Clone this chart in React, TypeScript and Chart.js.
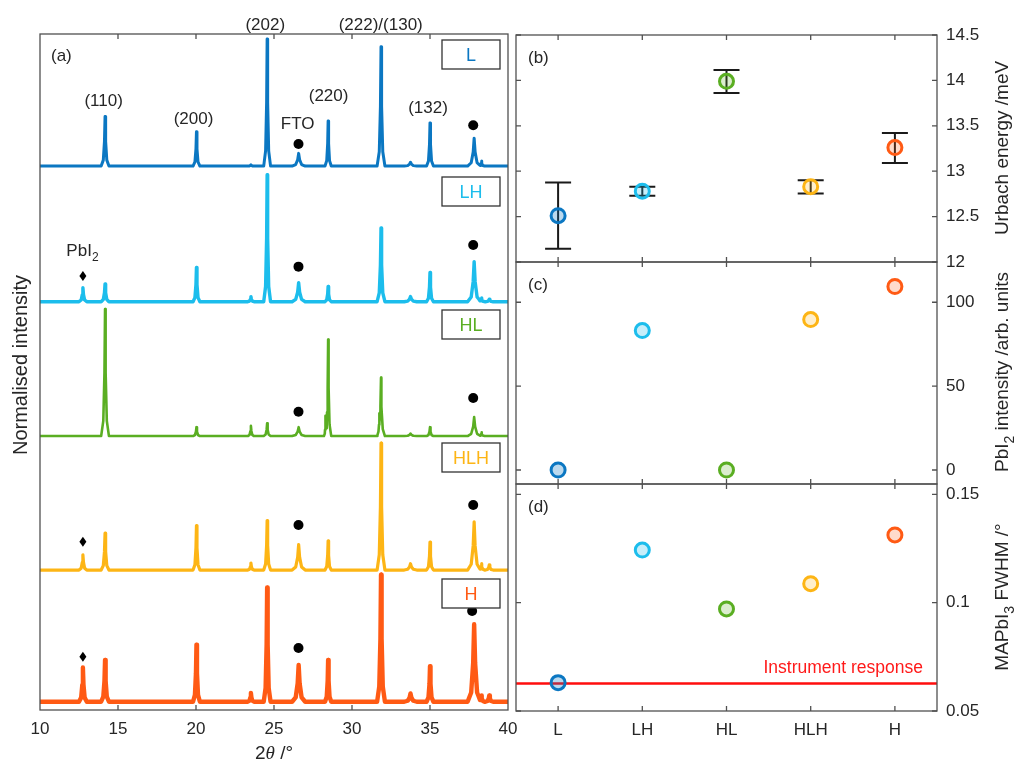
import React, { useEffect, useRef } from 'react';
import { Chart, registerables } from 'chart.js';
Chart.register(...registerables);

const W = 1014;
const H = 763;
const FONT = "'Liberation Sans', Arial, Helvetica, sans-serif";
const SERIF = "'Liberation Serif', 'Times New Roman', serif";
const TEXT_COLOR = '#262626';
const FRAME_COLOR = '#505050';

// ---------- samples ----------
const samples = ['L', 'LH', 'HL', 'HLH', 'H'];
const sampleColors = ['#0B77C2', '#1CBDEC', '#5AAE22', '#FDB515', '#FF5A14'];
const sampleFills = [
  'rgba(11,119,194,0.28)',
  'rgba(28,189,236,0.25)',
  'rgba(90,174,34,0.22)',
  'rgba(253,181,21,0.22)',
  'rgba(255,90,20,0.22)',
];

// ---------- (a) XRD ----------
const twoThetaTicks = [10, 15, 20, 25, 30, 35, 40];
const peakPos = [12.75, 14.17, 20.03, 23.52, 24.56, 26.58, 28.3, 28.47, 31.75, 31.86, 33.75, 35.0, 37.83, 38.3, 38.8];
const peakHalfWidth = [0.25, 0.25, 0.22, 0.2, 0.22, 0.42, 0.1, 0.2, 0.12, 0.25, 0.4, 0.22, 0.42, 0.2, 0.25];
const heightsL = [0, 0.39, 0.27, 0.01, 1.0, 0.1, 0, 0.355, 0, 0.94, 0.03, 0.34, 0.22, 0.04, 0];
const heightsLH = [0.11, 0.14, 0.27, 0.04, 1.0, 0.15, 0, 0.12, 0, 0.58, 0.04, 0.23, 0.315, 0.03, 0.02];
const heightsHL = [0, 1.0, 0.07, 0.08, 0.1, 0.07, 0.16, 0.76, 0.18, 0.46, 0.02, 0.07, 0.15, 0.03, 0];
const heightsHLH = [0.12, 0.29, 0.35, 0.055, 0.39, 0.2, 0, 0.23, 0, 1.0, 0.05, 0.22, 0.38, 0.05, 0.04];
const heightsH = [0.27, 0.33, 0.45, 0.07, 0.9, 0.29, 0, 0.33, 0, 1.0, 0.065, 0.28, 0.61, 0.05, 0.05];
const traceHeights = [heightsL, heightsLH, heightsHL, heightsHLH, heightsH];
const traceOffsets = [4.283, 3.215, 2.157, 1.102, 0.065];
const traceLineWidths = [3.0, 3.4, 2.6, 3.2, 4.4];
const xrdYMax = 5.323;

// hkl annotations
const hklText = ['(110)', '(200)', '(202)', 'FTO', '(220)', '(222)/(130)', '(132)'];
const hklX = [14.08, 19.84, 24.44, 26.52, 28.5, 31.84, 34.87];
const hklY = [4.803, 4.661, 5.4, 4.624, 4.843, 5.4, 4.75];
// FTO dots
const fto2Theta = [26.57, 37.77, 26.57, 37.77, 26.57, 37.77, 26.57, 37.77, 26.57, 37.7];
const ftoY = [4.457, 4.604, 3.491, 3.661, 2.349, 2.457, 1.457, 1.614, 0.488, 0.78];
// PbI2 diamonds
const pbi2Theta = [12.75, 12.75, 12.75];
const pbi2Y = [3.417, 1.325, 0.42];
const pbi2LabelX = 11.69;
const pbi2LabelY = 3.622;

// ---------- (b) Urbach ----------
const urbach = [12.51, 12.78, 13.99, 12.83, 13.26];
const urbachLow = [12.146, 12.73, 13.86, 12.755, 13.09];
const urbachHigh = [12.876, 12.83, 14.115, 12.9, 13.42];
const urbachTicks = [12, 12.5, 13, 13.5, 14, 14.5];

// ---------- (c) PbI2 intensity ----------
const pbi2Intensity = [0, 83.1, 0, 89.7, 109.4];
const pbi2Ticks = [0, 50, 100];

// ---------- (d) FWHM ----------
const fwhm = [0.0631, 0.1243, 0.0971, 0.1088, 0.1313];
const fwhmTicks = [0.05, 0.1, 0.15];
const instrumentResponse = 0.0627;

// ---------- layout (pixels) ----------
const sampleBoxTop = [40, 177, 310, 443, 579];

type Seg = { t: string; italic?: boolean; sub?: boolean; serif?: boolean };

function drawRich(
  ctx: CanvasRenderingContext2D,
  segs: Seg[],
  x: number,
  y: number,
  size: number,
  color: string,
  rotation = 0,
  align: 'center' | 'left' | 'right' = 'center'
) {
  ctx.save();
  ctx.translate(x, y);
  ctx.rotate(rotation);
  ctx.fillStyle = color;
  ctx.textBaseline = 'alphabetic';
  ctx.textAlign = 'left';
  const fontFor = (s: Seg) =>
    `${s.italic ? 'italic ' : ''}${s.sub ? Math.round(size * 0.72) : size}px ${s.serif ? SERIF : FONT}`;
  const widths = segs.map((s) => {
    ctx.font = fontFor(s);
    return ctx.measureText(s.t).width;
  });
  const total = widths.reduce((a, b) => a + b, 0);
  let cx = align === 'center' ? -total / 2 : align === 'right' ? -total : 0;
  const base = size * 0.36;
  segs.forEach((s, i) => {
    ctx.font = fontFor(s);
    ctx.fillText(s.t, cx, base + (s.sub ? size * 0.3 : 0));
    cx += widths[i];
  });
  ctx.restore();
}

function frameAndTicks(chart: any, xTicks: number[], yTicks: number[]) {
  const { ctx, chartArea: a, scales } = chart;
  ctx.save();
  ctx.strokeStyle = FRAME_COLOR;
  ctx.lineWidth = 1.3;
  ctx.strokeRect(a.left, a.top, a.right - a.left, a.bottom - a.top);
  const L = 5;
  ctx.beginPath();
  xTicks.forEach((v) => {
    const px = scales.x.getPixelForValue(v);
    ctx.moveTo(px, a.top);
    ctx.lineTo(px, a.top + L);
    ctx.moveTo(px, a.bottom);
    ctx.lineTo(px, a.bottom - L);
  });
  yTicks.forEach((v) => {
    const py = scales.y.getPixelForValue(v);
    ctx.moveTo(a.left, py);
    ctx.lineTo(a.left + L, py);
    ctx.moveTo(a.right, py);
    ctx.lineTo(a.right - L, py);
  });
  ctx.stroke();
  ctx.restore();
}

const shapeX = [-1, -0.45, -0.15, 0, 0.15, 0.45, 1];
const shapeY = [0, 0.12, 0.5, 1, 0.5, 0.12, 0];
function profileAt(x: number, p: number, b: number, h: number) {
  const u = (x - p) / b;
  if (u <= -1 || u >= 1) return 0;
  for (let i = 0; i < shapeX.length - 1; i++) {
    if (u >= shapeX[i] && u <= shapeX[i + 1]) {
      const t = (u - shapeX[i]) / (shapeX[i + 1] - shapeX[i]);
      return h * (shapeY[i] + t * (shapeY[i + 1] - shapeY[i]));
    }
  }
  return 0;
}
function buildTrace(heights: number[], offset: number) {
  const xs: number[] = [10, 40];
  peakPos.forEach((p, i) => {
    if (heights[i] > 0) shapeX.forEach((s) => xs.push(p + s * peakHalfWidth[i]));
  });
  xs.sort((a, b) => a - b);
  return xs.map((x) => {
    let y = 0;
    peakPos.forEach((p, i) => {
      if (heights[i] > 0) y = Math.max(y, profileAt(x, p, peakHalfWidth[i], heights[i]));
    });
    return { x, y: offset + y };
  });
}

const tickFont = { family: FONT, size: 17 };

function xrdConfig(): any {
  const plugin = {
    id: 'xrdDecor',
    afterDraw(chart: any) {
      const { ctx, chartArea: a, scales } = chart;
      frameAndTicks(chart, twoThetaTicks.slice(1, -1), []);
      const sx = (v: number) => scales.x.getPixelForValue(v);
      const sy = (v: number) => scales.y.getPixelForValue(v);
      hklText.forEach((t, i) => drawRich(ctx, [{ t }], sx(hklX[i]), sy(hklY[i]), 17, TEXT_COLOR));
      drawRich(ctx, [{ t: 'PbI' }, { t: '2', sub: true }], sx(pbi2LabelX), sy(pbi2LabelY), 17, TEXT_COLOR, 0, 'left');
      drawRich(ctx, [{ t: '(a)' }], a.left + 11, a.top + 21, 17, TEXT_COLOR, 0, 'left');
      ctx.save();
      ctx.fillStyle = '#000';
      fto2Theta.forEach((x, i) => {
        ctx.beginPath();
        ctx.arc(sx(x), sy(ftoY[i]), 5, 0, Math.PI * 2);
        ctx.fill();
      });
      pbi2Theta.forEach((x, i) => {
        const px = sx(x);
        const py = sy(pbi2Y[i]);
        ctx.beginPath();
        ctx.moveTo(px, py - 5);
        ctx.lineTo(px + 3.5, py);
        ctx.lineTo(px, py + 5);
        ctx.lineTo(px - 3.5, py);
        ctx.closePath();
        ctx.fill();
      });
      samples.forEach((s, i) => {
        ctx.fillStyle = '#fff';
        ctx.fillRect(442, sampleBoxTop[i], 58, 29);
        ctx.strokeStyle = '#333';
        ctx.lineWidth = 1.3;
        ctx.strokeRect(442, sampleBoxTop[i], 58, 29);
        drawRich(ctx, [{ t: s }], 471, sampleBoxTop[i] + 15, 18, sampleColors[i]);
      });
      ctx.restore();
      drawRich(
        ctx,
        [{ t: '2' }, { t: 'θ', italic: true, serif: true }, { t: ' /°' }],
        (a.left + a.right) / 2,
        752,
        19,
        TEXT_COLOR
      );
      drawRich(ctx, [{ t: 'Normalised intensity' }], 20, 365, 20, TEXT_COLOR, -Math.PI / 2);
    },
  };
  return {
    type: 'line',
    data: {
      datasets: samples.map((s, i) => ({
        label: s,
        data: buildTrace(traceHeights[i], traceOffsets[i]),
        borderColor: sampleColors[i],
        borderWidth: traceLineWidths[i],
        pointRadius: 0,
        tension: 0,
        borderJoinStyle: 'round',
        fill: false,
      })),
    },
    options: {
      animation: false,
      responsive: false,
      events: [],
      layout: { padding: { left: 40, right: W - 508, top: 34, bottom: 0 } },
      plugins: { legend: { display: false }, tooltip: { enabled: false } },
      scales: {
        x: {
          type: 'linear',
          min: 10,
          max: 40,
          afterBuildTicks: (ax: any) => {
            ax.ticks = twoThetaTicks.map((v) => ({ value: v }));
          },
          afterFit: (ax: any) => {
            ax.height = 53;
          },
          grid: { display: false, drawTicks: false },
          border: { display: false },
          ticks: { font: tickFont, color: TEXT_COLOR, padding: 9, maxRotation: 0, callback: (v: any) => String(v) },
        },
        y: { type: 'linear', display: false, min: 0, max: xrdYMax },
      },
    },
    plugins: [plugin],
  };
}

function rightConfig(opts: {
  values: number[];
  yMin: number;
  yMax: number;
  yTicks: number[];
  top: number;
  bottom: number;
  showX: boolean;
  letter: string;
  title: Seg[];
  titleY: number;
  before?: (chart: any) => void;
}): any {
  const plugin = {
    id: 'rightDecor',
    beforeDatasetsDraw(chart: any) {
      if (opts.before) opts.before(chart);
    },
    afterDraw(chart: any) {
      const { ctx, chartArea: a } = chart;
      frameAndTicks(chart, samples.map((_, i) => i), opts.yTicks);
      drawRich(ctx, [{ t: opts.letter }], a.left + 12, a.top + 22, 17, TEXT_COLOR, 0, 'left');
      drawRich(ctx, opts.title, 1001, opts.titleY, 19, TEXT_COLOR, -Math.PI / 2);
    },
  };
  return {
    type: 'line',
    data: {
      labels: samples,
      datasets: [
        {
          data: opts.values,
          showLine: false,
          pointRadius: 7,
          pointBorderWidth: 3,
          pointBorderColor: sampleColors,
          pointBackgroundColor: sampleFills,
        },
      ],
    },
    options: {
      animation: false,
      responsive: false,
      events: [],
      layout: {
        padding: { left: 516, right: 0, top: opts.top, bottom: opts.showX ? 0 : H - opts.bottom },
      },
      plugins: { legend: { display: false }, tooltip: { enabled: false } },
      scales: {
        x: {
          type: 'category',
          offset: true,
          display: opts.showX,
          afterFit: (ax: any) => {
            ax.height = opts.showX ? H - opts.bottom : 0;
          },
          grid: { display: false, drawTicks: false },
          border: { display: false },
          ticks: { font: tickFont, color: TEXT_COLOR, padding: 9, maxRotation: 0 },
        },
        y: {
          type: 'linear',
          position: 'right',
          min: opts.yMin,
          max: opts.yMax,
          afterBuildTicks: (ax: any) => {
            ax.ticks = opts.yTicks.map((v) => ({ value: v }));
          },
          afterFit: (ax: any) => {
            ax.width = 77;
          },
          grid: { display: false, drawTicks: false },
          border: { display: false },
          ticks: { font: tickFont, color: TEXT_COLOR, padding: 9, callback: (v: any) => String(v) },
        },
      },
    },
    plugins: [plugin],
  };
}

function urbachConfig() {
  return rightConfig({
    values: urbach,
    yMin: 12,
    yMax: 14.5,
    yTicks: urbachTicks,
    top: 35,
    bottom: 262,
    showX: false,
    letter: '(b)',
    title: [{ t: 'Urbach energy /meV' }],
    titleY: 148,
    before: (chart: any) => {
      const { ctx, scales } = chart;
      ctx.save();
      ctx.strokeStyle = '#1a1a1a';
      ctx.lineWidth = 2;
      ctx.beginPath();
      urbach.forEach((_, i) => {
        const x = scales.x.getPixelForValue(i);
        const lo = scales.y.getPixelForValue(urbachLow[i]);
        const hi = scales.y.getPixelForValue(urbachHigh[i]);
        ctx.moveTo(x, lo);
        ctx.lineTo(x, hi);
        ctx.moveTo(x - 13, lo);
        ctx.lineTo(x + 13, lo);
        ctx.moveTo(x - 13, hi);
        ctx.lineTo(x + 13, hi);
      });
      ctx.stroke();
      ctx.restore();
    },
  });
}

function pbi2Config() {
  return rightConfig({
    values: pbi2Intensity,
    yMin: -8.35,
    yMax: 124,
    yTicks: pbi2Ticks,
    top: 262,
    bottom: 484,
    showX: false,
    letter: '(c)',
    title: [{ t: 'PbI' }, { t: '2', sub: true }, { t: ' intensity /arb. units' }],
    titleY: 372,
  });
}

function fwhmConfig() {
  return rightConfig({
    values: fwhm,
    yMin: 0.05,
    yMax: 0.1548,
    yTicks: fwhmTicks,
    top: 484,
    bottom: 711,
    showX: true,
    letter: '(d)',
    title: [{ t: 'MAPbI' }, { t: '3', sub: true }, { t: ' FWHM /°' }],
    titleY: 597,
    before: (chart: any) => {
      const { ctx, chartArea: a, scales } = chart;
      const y = scales.y.getPixelForValue(instrumentResponse);
      ctx.save();
      ctx.strokeStyle = '#FF0D0D';
      ctx.lineWidth = 2.5;
      ctx.beginPath();
      ctx.moveTo(a.left, y);
      ctx.lineTo(a.right, y);
      ctx.stroke();
      ctx.restore();
      drawRich(ctx, [{ t: 'Instrument response' }], 923, y - 17, 17.5, '#FF1A1A', 0, 'right');
    },
  });
}

export default function App() {
  const refA = useRef<HTMLCanvasElement>(null);
  const refB = useRef<HTMLCanvasElement>(null);
  const refC = useRef<HTMLCanvasElement>(null);
  const refD = useRef<HTMLCanvasElement>(null);

  useEffect(() => {
    Chart.defaults.font.family = FONT;
    const charts = [
      new Chart(refA.current as HTMLCanvasElement, xrdConfig()),
      new Chart(refB.current as HTMLCanvasElement, urbachConfig()),
      new Chart(refC.current as HTMLCanvasElement, pbi2Config()),
      new Chart(refD.current as HTMLCanvasElement, fwhmConfig()),
    ];
    return () => charts.forEach((c) => c.destroy());
  }, []);

  const canvasStyle: React.CSSProperties = { position: 'absolute', left: 0, top: 0, width: W, height: H };
  return (
    <div style={{ position: 'absolute', left: 0, top: 0, width: W, height: H, background: '#fff' }}>
      <canvas ref={refA} width={W} height={H} style={canvasStyle} />
      <canvas ref={refB} width={W} height={H} style={canvasStyle} />
      <canvas ref={refC} width={W} height={H} style={canvasStyle} />
      <canvas ref={refD} width={W} height={H} style={canvasStyle} />
    </div>
  );
}
